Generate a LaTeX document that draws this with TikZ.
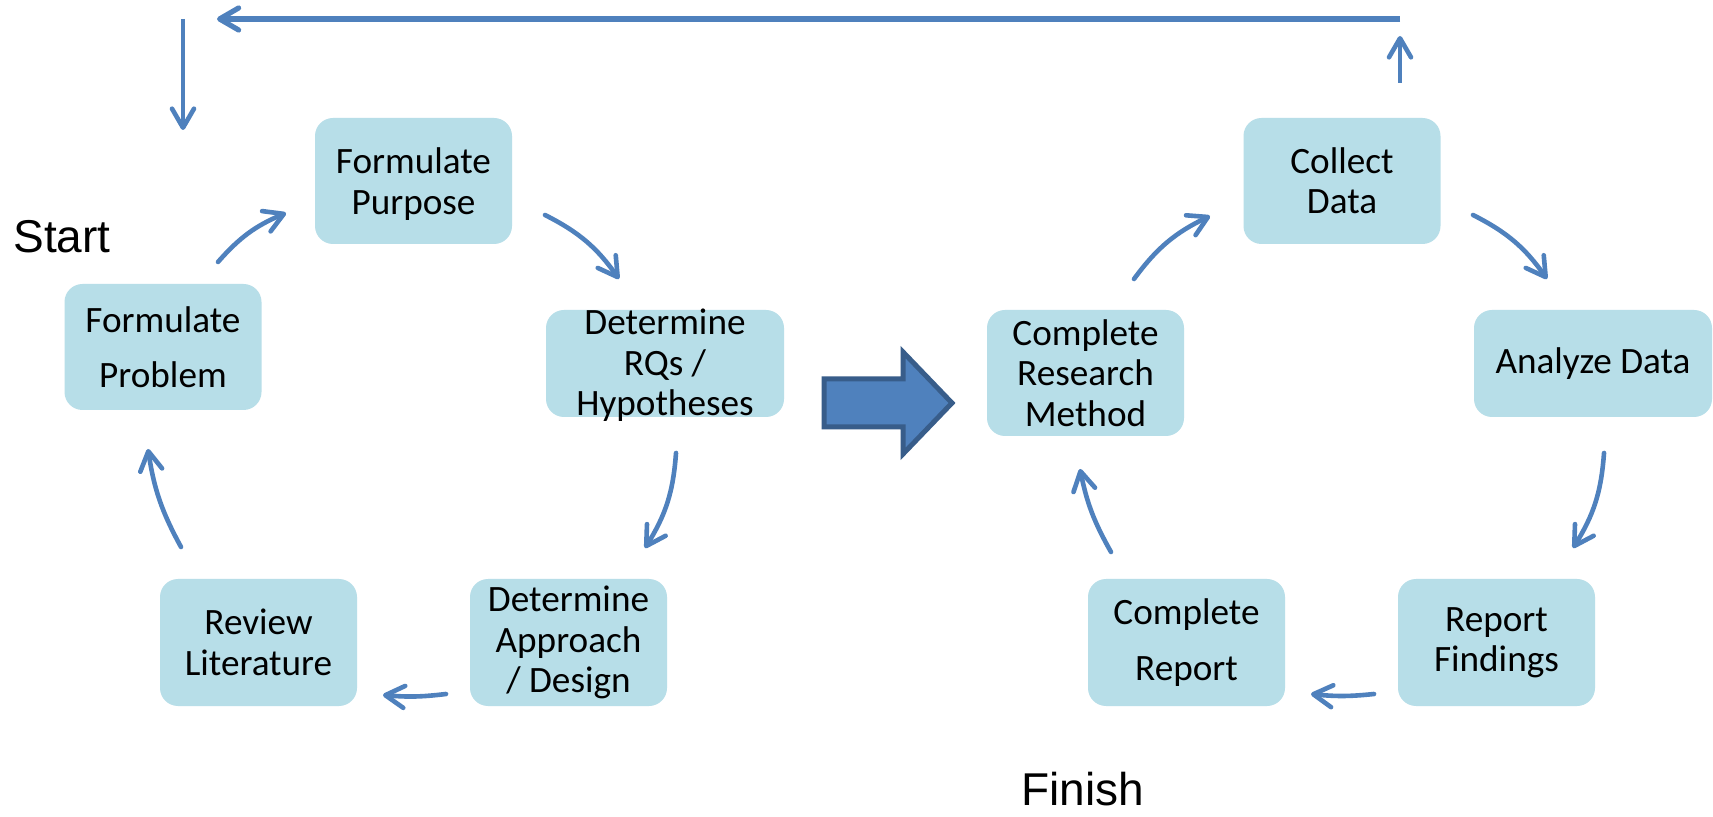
\documentclass[tikz,border=0pt]{standalone}
\usepackage{fontspec}
\setmainfont{Carlito}
\newfontfamily\arialfont{Liberation Sans}
\usetikzlibrary{arrows.meta}
\definecolor{boxblue}{HTML}{B7DEE8}
\definecolor{arrowblue}{HTML}{4F81BD}
\definecolor{arrowedge}{HTML}{385D8A}
\newcommand\boxfont{\fontsize{18.6}{20.2}\selectfont}
\newcommand\bigfont{\arialfont\fontsize{23}{26}\selectfont}
\tikzset{
  box/.style={rectangle, rounded corners=9pt, fill=boxblue, minimum width=98.5pt, minimum height=63pt, inner sep=0pt},
  boxtext/.style={font=\boxfont, align=center, inner sep=0pt, text=black},
  flow/.style={draw=arrowblue, line width=2.3pt, line cap=round, -{Straight Barb[round,length=9.5pt,width=11pt]}},
  bigtext/.style={font=\bigfont, anchor=base west, inner sep=0pt},
  blockarrow/.style={fill=arrowblue, draw=arrowedge, line width=2.5pt, line join=miter}
}
\begin{document}
\begin{tikzpicture}[x=0.5pt, y=-0.5pt]
\fill[white] (0,0) rectangle (1713,817);
\useasboundingbox (0,0) rectangle (1713,817);

% boxes
\node[box, label={[boxtext]center:Formulate\\[7.5pt]Problem}] (fprob) at (163,347) {};
\node[box, label={[boxtext, yshift=-1.5pt]center:Formulate\\Purpose}] (fpurp) at (413.5,181) {};
\node[box, minimum width=119pt, minimum height=53.5pt, label={[boxtext, yshift=-1pt]center:Determine\\RQs /\\Hypotheses}] (rq) at (665,363.5) {};
\node[box, minimum height=63.5pt, label={[boxtext]center:Determine\\Approach\\/ Design}] (appr) at (568.5,642.5) {};
\node[box, minimum height=63.5pt, label={[boxtext]center:Review\\Literature}] (review) at (258.5,642.5) {};

\node[box, label={[boxtext]center:Complete\\Research\\Method}] (crm) at (1085.5,373) {};
\node[box, label={[boxtext]center:Collect\\Data}] (collect) at (1342,181) {};
\node[box, minimum width=119pt, minimum height=53.5pt, label={[boxtext]center:Analyze Data}] (analyze) at (1593,363.5) {};
\node[box, minimum height=63.5pt, label={[boxtext]center:Report\\Findings}] (rf) at (1496.5,642.5) {};
\node[box, minimum height=63.5pt, label={[boxtext]center:Complete\\[8pt]Report}] (cr) at (1186.5,642.5) {};

% start / finish
\node[bigtext] (start) at (13,253) {Start};
\node[bigtext] (finish) at (1021,805) {Finish};

% block arrow
\draw[blockarrow] (824,379) -- (903,379) -- (903,352) -- (952,403) -- (903,454) -- (903,427) -- (824,427) -- cycle;

% arrow end points
\coordinate (a1s) at (218,262);  \coordinate (a1e) at (286,213);
\coordinate (a2s) at (545,215);  \coordinate (a2e) at (619,279);
\coordinate (a3s) at (676,453);  \coordinate (a3e) at (645,548);
\coordinate (a4s) at (446,694);  \coordinate (a4e) at (383,695);
\coordinate (a5s) at (181,547);  \coordinate (a5e) at (148,449);
\coordinate (b1s) at (1111,552); \coordinate (b1e) at (1080,469);
\coordinate (b2s) at (1134,279); \coordinate (b2e) at (1210,216);
\coordinate (b3s) at (1473,215); \coordinate (b3e) at (1547,279);
\coordinate (b4s) at (1604,453); \coordinate (b4e) at (1573,548);
\coordinate (b5s) at (1374,694); \coordinate (b5e) at (1311,694);
\coordinate (t1) at (183,19);   \coordinate (t2) at (183,130);
\coordinate (t3) at (1400,83);  \coordinate (t4) at (1400,36);
\coordinate (t5) at (1400,19);  \coordinate (t6) at (217,19);

% curved cycle arrows
\draw[flow] (a1s) to[bend left=13] (a1e);
\draw[flow] (a2s) to[bend left=14] (a2e);
\draw[flow] (a3s) to[bend left=14] (a3e);
\draw[flow] (a4s) to[bend left=6] (a4e);
\draw[flow] (a5s) to[bend left=10] (a5e);
\draw[flow] (b1s) to[bend left=9] (b1e);
\draw[flow] (b2s) to[bend left=14] (b2e);
\draw[flow] (b3s) to[bend left=14] (b3e);
\draw[flow] (b4s) to[bend left=14] (b4e);
\draw[flow] (b5s) to[bend left=6] (b5e);

% loop-back arrows
\draw[flow, line cap=butt] (t1) -- (t2);
\draw[flow, line cap=butt] (t3) -- (t4);
\draw[flow, line width=2.6pt, line cap=butt] (t5) -- (t6);
\end{tikzpicture}
\end{document}
